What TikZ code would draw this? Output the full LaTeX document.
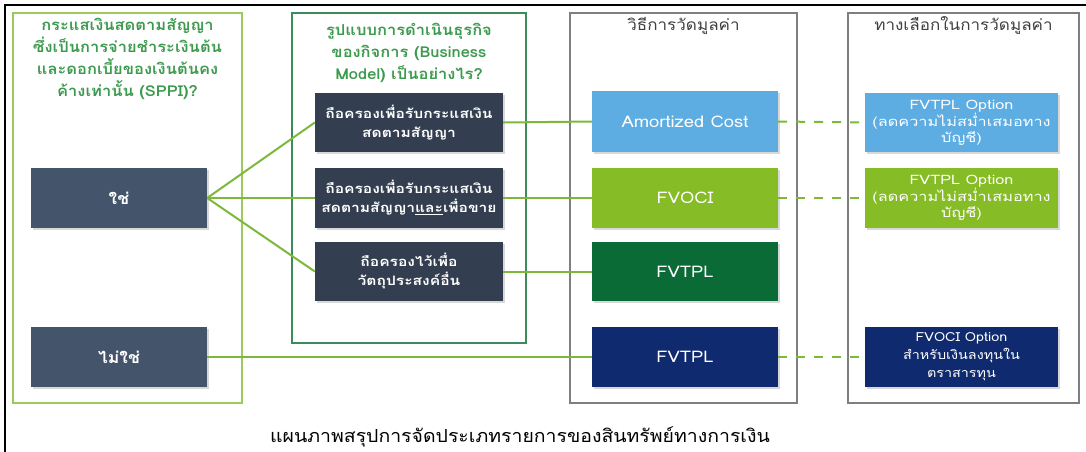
\documentclass[tikz,border=0pt]{standalone}
\usepackage{fontspec}
\usetikzlibrary{shadows}
\setmainfont[Script=Thai]{Loma}
\newfontfamily\fhead[Script=Thai,FakeStretch=1.1]{Loma}
\newfontfamily\fmid[Script=Thai,FakeStretch=1.2]{Loma}
\newfontfamily\fopt[Script=Thai,FakeStretch=1.25]{Loma}
\newfontfamily\fval[Script=Thai,FakeStretch=1.15]{Loma}
\newfontfamily\fcap[Script=Thai,FakeStretch=1.08]{Loma}
\definecolor{slate}{HTML}{44546A}
\definecolor{darkbox}{HTML}{333F50}
\definecolor{lblue}{HTML}{5DADE2}
\definecolor{ygreen}{HTML}{86BC25}
\definecolor{dgreen}{HTML}{0A6B37}
\definecolor{navy}{HTML}{0F2A6E}
\definecolor{c1border}{HTML}{9BCB5C}
\definecolor{c2border}{HTML}{3B8C5A}
\definecolor{gborder}{HTML}{7F7F7F}
\definecolor{conn}{HTML}{7DB83A}
\definecolor{hgreen}{HTML}{3D9A4E}
\definecolor{hgray}{HTML}{404040}
\begin{document}
\begin{tikzpicture}[x=1pt,y=-1pt,
  colbox/.style={draw, line width=1.3pt, inner sep=0pt},
  box/.style={minimum width=187pt, minimum height=60pt, inner sep=0pt, text=white, align=center,
    general shadow={fill=black!30, opacity=0.5, shadow xshift=1.5pt, shadow yshift=-1.5pt}},
  lbox/.style={box, minimum width=176pt, font=\fhead\bfseries\fontsize{16}{18}\selectfont},
  mbox/.style={box, minimum width=188pt, font=\fmid\bfseries\fontsize{13}{19}\selectfont},
  vbox/.style={box, minimum width=186pt, font=\fval\fontsize{16}{18}\selectfont},
  obox/.style={box, minimum width=193pt, font=\fopt\fontsize{13}{16}\selectfont},
  head/.style={align=center, inner sep=0pt},
  link/.style={conn, line width=2pt},
  dlink/.style={conn, line width=2pt, dash pattern=on 9pt off 9pt},
]
\useasboundingbox (0,0) rectangle (1086,452);
\draw[line width=2.5pt] (5,452) -- (5,5) -- (1086,5);
% columns
\node[colbox, draw=c1border, minimum width=229pt, minimum height=390pt] (col1) at (127.5,208) {};
\node[colbox, draw=c2border, minimum width=234pt, minimum height=330pt] (col2) at (409,178) {};
\node[colbox, draw=gborder, minimum width=227pt, minimum height=390pt] (col3) at (683.5,208) {};
\node[colbox, draw=gborder, minimum width=231pt, minimum height=390pt] (col4) at (963.5,208) {};
% headers
\node[head, text=hgreen, font=\fhead\bfseries\fontsize{15}{22}\selectfont] (h1) at (127.5,59)
  {กระแสเงินสดตามสัญญา\\ซึ่งเป็นการจ่ายชำระเงินต้น\\และดอกเบี้ยของเงินต้นคง\\ค้างเท่านั้น (SPPI)?};
\node[head, text=hgreen, font=\fhead\bfseries\fontsize{15}{22}\selectfont] (h2) at (409,53)
  {รูปแบบการดำเนินธุรกิจ\\ของกิจการ (Business\\Model) เป็นอย่างไร?};
\node[head, text=hgray, font=\fhead\fontsize{15.5}{18}\selectfont] (h3) at (683.5,26) {วิธีการวัดมูลค่า};
\node[head, text=hgray, font=\fhead\fontsize{15.5}{18}\selectfont] (h4) at (963.5,26) {ทางเลือกในการวัดมูลค่า};
% column 1
\node[lbox, fill=slate] (yes) at (119,198) {ใช่};
\node[lbox, fill=slate] (no) at (119,357) {ไม่ใช่};
% column 2
\node[mbox, fill=darkbox, minimum height=59pt] (m1) at (409,122.5) {ถือครองเพื่อรับกระแสเงิน\\สดตามสัญญา};
\node[mbox, fill=darkbox] (m2) at (409,198) {ถือครองเพื่อรับกระแสเงิน\\สดตามสัญญา\underline{และ}เพื่อขาย};
\node[mbox, fill=darkbox, minimum height=59pt] (m3) at (409,271.5) {ถือครองไว้เพื่อ\\วัตถุประสงค์อื่น};
% column 3
\node[vbox, fill=lblue, minimum height=61pt] (v1) at (685,121.5) {Amortized Cost};
\node[vbox, fill=ygreen] (v2) at (685,198) {FVOCI};
\node[vbox, fill=dgreen, minimum height=59pt] (v3) at (685,271.5) {FVTPL};
\node[vbox, fill=navy] (v4) at (685,357) {FVTPL};
% column 4
\node[obox, fill=lblue, minimum height=59pt] (o1) at (961.5,122.5) {FVTPL Option\\(ลดความไม่สม่ำเสมอทาง\\บัญชี)};
\node[obox, fill=ygreen] (o2) at (961.5,198) {FVTPL Option\\(ลดความไม่สม่ำเสมอทาง\\บัญชี)};
\node[obox, fill=navy, font=\fval\fontsize{12.5}{18}\selectfont] (o4) at (961.5,357) {FVOCI Option\\สำหรับเงินลงทุนใน\\ตราสารทุน};
% connectors
\draw[link] (yes.east) -- (m1.west);
\draw[link] (yes.east) -- (m2.west);
\draw[link] (yes.east) -- (m3.west);
\draw[link] (m1.east) -- (v1.west);
\draw[link] (m2.east) -- (v2.west);
\draw[link] (m3.east) -- (v3.west);
\draw[link] (no.east) -- (v4.west);
\draw[dlink] (v1.east) -- (o1.west);
\draw[dlink] (v2.east) -- (o2.west);
\draw[dlink] (v4.east) -- (o4.west);
% caption
\node[inner sep=0pt, font=\fcap\fontsize{18}{20}\selectfont] (cap) at (520,437) {แผนภาพสรุปการจัดประเภทรายการของสินทรัพย์ทางการเงิน};
\end{tikzpicture}
\end{document}
